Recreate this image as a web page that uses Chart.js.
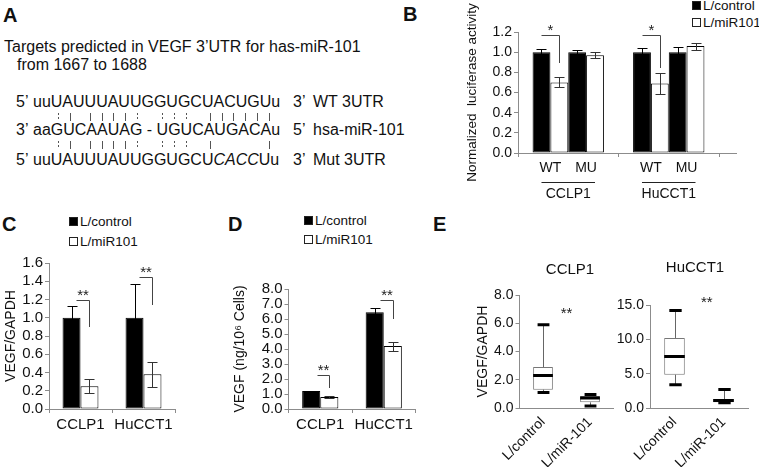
<!DOCTYPE html>
<html>
<head>
<meta charset="utf-8">
<script src="https://cdn.jsdelivr.net/npm/chart.js@4"></script>
<style>
body{margin:0;background:#fff;font-family:"Liberation Sans",Arial,sans-serif;color:#111}
#fig{position:relative;width:759px;height:467px;overflow:hidden;background:#fff}
canvas{position:absolute}
.t{position:absolute;white-space:pre;line-height:1}
.let{font-weight:bold;font-size:20px;line-height:20px}
.seq{font-size:16px;line-height:16px}
.pm{position:absolute;width:1px;height:8px;background:#555}
.pm.dot{background:repeating-linear-gradient(#555 0 2px, transparent 2px 4px)}
.lg{font-size:13.5px;line-height:14px}
.sq{display:inline-block;width:7px;height:7px;border:1px solid #222;margin-right:2px;vertical-align:0px}
.sq.k{background:#000}
</style>
</head>
<body>
<div id="fig">
  <!-- panel A: sequence alignment -->
  <div class="t let" style="left:3px;top:5px">A</div>
  <div class="t seq" style="left:4px;top:39px">Targets predicted in VEGF 3’UTR for has-miR-101</div>
  <div class="t seq" style="left:17px;top:57px">from 1667 to 1688</div>
  <div class="t seq" style="left:16px;top:94px">5’</div>
  <div class="t seq" style="left:33px;top:94px">uuUAUUUAUUGGUGCUACUGUu</div>
  <div class="t seq" style="left:293px;top:94px">3’</div>
  <div class="t seq" style="left:313px;top:94px">WT 3UTR</div>
  <div class="t seq" style="left:16px;top:122px">3’</div>
  <div class="t seq" style="left:33px;top:122px">aaGUCAAUAG - UGUCAUGACAu</div>
  <div class="t seq" style="left:293px;top:122px">5’</div>
  <div class="t seq" style="left:313px;top:122px">hsa-miR-101</div>
  <div class="t seq" style="left:16px;top:152px">5’</div>
  <div class="t seq" style="left:33px;top:152px">uuUAUUUAUUGGUGCU<i>CACC</i>Uu</div>
  <div class="t seq" style="left:293px;top:152px">3’</div>
  <div class="t seq" style="left:313px;top:152px">Mut 3UTR</div>
  <div id="pairs"></div>

  <div class="t let" style="left:403px;top:4px">B</div>
  <div class="t let" style="left:2px;top:214px">C</div>
  <div class="t let" style="left:228px;top:214px">D</div>
  <div class="t let" style="left:433px;top:214px">E</div>

  <div class="t lg" style="left:692px;top:-1px"><span class="sq k"></span>L/control</div>
  <div class="t lg" style="left:692px;top:16px"><span class="sq"></span>L/miR101</div>
  <div class="t lg" style="left:69px;top:215px"><span class="sq k"></span>L/control</div>
  <div class="t lg" style="left:69px;top:235px"><span class="sq"></span>L/miR101</div>
  <div class="t lg" style="left:304px;top:214px"><span class="sq k"></span>L/control</div>
  <div class="t lg" style="left:304px;top:233px"><span class="sq"></span>L/miR101</div>

  <canvas id="chartB" width="290" height="205" style="left:455px;top:0px"></canvas>
  <canvas id="chartC" width="185" height="190" style="left:0px;top:245px"></canvas>
  <canvas id="chartD" width="200" height="190" style="left:225px;top:245px"></canvas>
  <canvas id="chartE1" width="145" height="212" style="left:474px;top:255px"></canvas>
  <canvas id="chartE2" width="145" height="212" style="left:614px;top:255px"></canvas>
</div>
<script>
// ---- data ----
// B: luciferase
const bCells = ['CCLP1', 'HuCCT1'];
const bConstructs = ['WT', 'MU'];
const bCtrlWT = [1.00, 1.00];
const bCtrlWTErr = [0.03, 0.04];
const bMirWT = [0.70, 0.69];
const bMirWTErr = [0.05, 0.10];
const bCtrlMU = [1.00, 1.00];
const bCtrlMUErr = [0.025, 0.05];
const bMirMU = [0.97, 1.06];
const bMirMUErr = [0.03, 0.035];
const bSigTop = [1.17, 1.17];
const bSigDrop = [0.89, 0.84];

// C: VEGF/GAPDH mRNA
const cCells = ['CCLP1', 'HuCCT1'];
const cControl = [1.00, 1.00];
const cControlErr = [0.13, 0.37];
const cMir = [0.25, 0.38];
const cMirErr = [0.075, 0.14];
const cSigTop = [1.19, 1.45];
const cSigDrop = [0.90, 1.14];

// D: secreted VEGF
const dCells = ['CCLP1', 'HuCCT1'];
const dControl = [1.2, 6.45];
const dControlErr = [0.03, 0.27];
const dMir = [0.8, 4.2];
const dMirErr = [0.05, 0.30];
const dSigTop = [2.27, 7.27];
const dSigDrop = [1.4, 6.0];

// E: box plots
const eGroups = ['L/control', 'L/miR-101'];
const e1Min = [1.1, 0.15];
const e1Q1 = [1.3, 0.4];
const e1Median = [2.3, 0.7];
const e1Q3 = [2.9, 0.85];
const e1Max = [5.9, 0.95];
const e2Min = [3.4, 0.75];
const e2Q1 = [4.85, 0.85];
const e2Median = [7.5, 1.1];
const e2Q3 = [10.2, 1.3];
const e2Max = [14.2, 2.7];

// panel A pairing marks (x centres under the sequence letters)
const pairRow1X = [58, 70, 90, 102, 113, 125, 137, 162, 174, 186, 210, 222, 233, 245, 257, 269];
const pairRow1 = [':', '|', '|', '|', '|', '|', ':', ':', ':', ':', '|', '|', '|', '|', '|', '|'];
const pairRow2X = [58, 70, 90, 102, 113, 125, 137, 162, 174, 186, 210, 269];
const pairRow2 = [':', '|', '|', '|', '|', '|', ':', ':', ':', ':', '|', '|'];

const pairs = document.getElementById('pairs');
function addPairs(xs, marks, top) {
    xs.forEach((x, i) => {
        const d = document.createElement('div');
        d.className = marks[i] === ':' ? 'pm dot' : 'pm';
        d.style.left = x + 'px';
        d.style.top = top + 'px';
        pairs.appendChild(d);
    });
}
addPairs(pairRow1X, pairRow1, 113);
addPairs(pairRow2X, pairRow2, 141);

// ---- charts ----
Chart.defaults.font.family = '"Liberation Sans", Arial, sans-serif';
Chart.defaults.color = '#111';
Chart.defaults.animation = false;
const AXIS = '#8c8c8c';

function yAxis(max, step, width, title, titlePad, tickSize, titleSize) {
    return {
        min: 0, max: max,
        border: {color: AXIS},
        grid: {drawOnChartArea: false, drawTicks: true, tickLength: 4, color: AXIS},
        ticks: {stepSize: step, padding: 2, autoSkip: false, font: {size: tickSize}, color: '#111', callback: v => v.toFixed(1)},
        title: {display: !!title, text: title, font: {size: titleSize || 14}, color: '#111', padding: {top: titlePad, bottom: 0}},
        afterFit(s) { s.width = width; }
    };
}
function xAxis(height, showLabels, showGrid, size) {
    return {
        border: {color: AXIS},
        grid: {display: showGrid, drawOnChartArea: false, drawTicks: true, tickLength: 4, color: AXIS},
        ticks: {display: showLabels, padding: 3, font: {size: size || 14}, color: '#111', maxRotation: 0, autoSkip: false},
        afterFit(s) { s.height = height; }
    };
}

const deco = {
    id: 'deco',
    afterDatasetsDraw(chart, args, o) {
        const ctx = chart.ctx;
        const ys = chart.scales.y, xs = chart.scales.x;
        const area = chart.chartArea;
        ctx.save();
        ctx.lineWidth = 1;
        // error bars
        (o.errors || []).forEach((errs, di) => {
            const meta = chart.getDatasetMeta(di);
            meta.data.forEach((bar, i) => {
                const v = chart.data.datasets[di].data[i];
                const x = Math.round(bar.x) + 0.5;
                const t = Math.round(ys.getPixelForValue(v + errs[i])) + 0.5;
                const b = Math.round(ys.getPixelForValue(v - errs[i])) + 0.5;
                ctx.strokeStyle = di % 2 === 0 ? '#000' : '#333';
                ctx.beginPath();
                ctx.moveTo(x, t); ctx.lineTo(x, b);
                ctx.moveTo(x - 5, t); ctx.lineTo(x + 5, t);
                ctx.moveTo(x - 5, b); ctx.lineTo(x + 5, b);
                ctx.stroke();
            });
        });
        // significance brackets
        if (o.sig) {
            const s = o.sig;
            const ma = chart.getDatasetMeta(s.from), mb = chart.getDatasetMeta(s.to);
            s.top.forEach((tv, i) => {
                const a = ma.data[i], b = mb.data[i];
                const x1 = Math.round(a.x + s.shift * a.width) + 0.5;
                const x2 = Math.round(b.x) + 0.5;
                const yt = Math.round(ys.getPixelForValue(tv)) + 0.5;
                const yd = Math.round(ys.getPixelForValue(s.drop[i]));
                ctx.strokeStyle = '#444';
                ctx.beginPath();
                ctx.moveTo(x1, yt); ctx.lineTo(x2, yt); ctx.lineTo(x2, yd);
                ctx.stroke();
                ctx.fillStyle = '#222';
                ctx.font = '15px "Liberation Sans", Arial, sans-serif';
                ctx.textAlign = 'center';
                ctx.textBaseline = 'middle';
                ctx.fillText(s.label, (x1 + x2) / 2, yt - 5);
            });
        }
        // sub labels (WT / MU) with underline and cell line name
        if (o.groups) {
            const g = o.groups;
            ctx.font = '14px "Liberation Sans", Arial, sans-serif';
            ctx.fillStyle = '#111';
            ctx.textAlign = 'center';
            ctx.textBaseline = 'middle';
            const m = [0, 1, 2, 3].map(k => chart.getDatasetMeta(k).data);
            g.names.forEach((name, i) => {
                ctx.fillText(g.subs[0], (m[0][i].x + m[1][i].x) / 2, area.bottom + 15);
                ctx.fillText(g.subs[1], (m[2][i].x + m[3][i].x) / 2, area.bottom + 15);
                ctx.strokeStyle = '#222';
                ctx.beginPath();
                ctx.moveTo(m[0][i].x, area.bottom + 29.5);
                ctx.lineTo(m[3][i].x, area.bottom + 29.5);
                ctx.stroke();
                ctx.fillText(name, (m[0][i].x + m[3][i].x) / 2, area.bottom + 41);
            });
        }
        // axis line extension
        if (o.extend) {
            ctx.strokeStyle = AXIS;
            ctx.beginPath();
            ctx.moveTo(area.right, area.bottom + 0.5);
            ctx.lineTo(area.right + o.extend, area.bottom + 0.5);
            ctx.stroke();
        }
        // box plot whiskers, caps and medians
        if (o.box) {
            const bx = o.box;
            chart.getDatasetMeta(0).data.forEach((bar, i) => {
                const x = Math.round(bar.x) + 0.5;
                const cw = bar.width * 0.3;
                const pMin = ys.getPixelForValue(bx.min[i]);
                const pMax = ys.getPixelForValue(bx.max[i]);
                const pQ1 = ys.getPixelForValue(bx.q1[i]);
                const pQ3 = ys.getPixelForValue(bx.q3[i]);
                const pMed = ys.getPixelForValue(bx.median[i]);
                ctx.strokeStyle = '#666';
                ctx.lineWidth = 1;
                ctx.beginPath();
                ctx.moveTo(x, pQ3); ctx.lineTo(x, pMax);
                ctx.moveTo(x, pQ1); ctx.lineTo(x, pMin);
                ctx.stroke();
                ctx.strokeStyle = '#000';
                ctx.lineWidth = 3;
                ctx.beginPath();
                ctx.moveTo(x - cw, pMax); ctx.lineTo(x + cw, pMax);
                ctx.moveTo(x - cw, pMin); ctx.lineTo(x + cw, pMin);
                ctx.moveTo(bar.x - bar.width / 2, pMed); ctx.lineTo(bar.x + bar.width / 2, pMed);
                ctx.stroke();
            });
        }
        if (o.stars) {
            ctx.fillStyle = '#222';
            ctx.font = '15px "Liberation Sans", Arial, sans-serif';
            ctx.textAlign = 'center';
            ctx.textBaseline = 'middle';
            ctx.fillText('**', xs.getPixelForValue(o.stars[0]), ys.getPixelForValue(o.stars[1]));
        }
        if (o.heading) {
            ctx.fillStyle = '#111';
            ctx.font = '15px "Liberation Sans", Arial, sans-serif';
            ctx.textAlign = 'center';
            ctx.textBaseline = 'middle';
            ctx.fillText(o.heading.text, (area.left + area.right) / 2 + o.heading.dx, area.top - o.heading.dy);
        }
        ctx.restore();
    }
};

function barSet(data, dark) {
    return {
        data: data,
        backgroundColor: dark ? '#000' : '#fff',
        borderColor: '#000',
        borderWidth: 1,
        borderSkipped: false,
        categoryPercentage: 0.57,
        barPercentage: 1.0
    };
}

// B
const bSets = [barSet(bCtrlWT, true), barSet(bMirWT, false), barSet(bCtrlMU, true), barSet(bMirMU, false)];
bSets.forEach(s => { s.categoryPercentage = 0.71; });
new Chart(document.getElementById('chartB'), {
    type: 'bar',
    data: {labels: bCells, datasets: bSets},
    options: {
        responsive: false, devicePixelRatio: 1,
        layout: {padding: {top: 32, right: 26, left: 0, bottom: 0}},
        plugins: {
            legend: {display: false}, tooltip: {enabled: false},
            deco: {
                errors: [bCtrlWTErr, bMirWTErr, bCtrlMUErr, bMirMUErr],
                sig: {from: 0, to: 1, shift: 0, top: bSigTop, drop: bSigDrop, label: '*'},
                groups: {names: bCells, subs: bConstructs},
                extend: 18
            }
        },
        scales: {
            x: xAxis(52, false, true),
            y: yAxis(1.2, 0.2, 63, 'Normalized  luciferase activity', 9, 14, 13.5)
        }
    },
    plugins: [deco]
});

// C
new Chart(document.getElementById('chartC'), {
    type: 'bar',
    data: {labels: cCells, datasets: [barSet(cControl, true), barSet(cMir, false)]},
    options: {
        responsive: false, devicePixelRatio: 1,
        layout: {padding: {top: 18, right: 10, left: 0, bottom: 0}},
        plugins: {
            legend: {display: false}, tooltip: {enabled: false},
            deco: {
                errors: [cControlErr, cMirErr],
                sig: {from: 0, to: 1, shift: 0.25, top: cSigTop, drop: cSigDrop, label: '**'}
            }
        },
        scales: {
            x: xAxis(26, true, true, 15),
            y: yAxis(1.6, 0.2, 49, 'VEGF/GAPDH', 3, 15)
        }
    },
    plugins: [deco]
});

// D
new Chart(document.getElementById('chartD'), {
    type: 'bar',
    data: {labels: dCells, datasets: [barSet(dControl, true), barSet(dMir, false)]},
    options: {
        responsive: false, devicePixelRatio: 1,
        layout: {padding: {top: 44, right: 9.5, left: 0, bottom: 0}},
        plugins: {
            legend: {display: false}, tooltip: {enabled: false},
            deco: {
                errors: [dControlErr, dMirErr],
                sig: {from: 0, to: 1, shift: 0.3, top: dSigTop, drop: dSigDrop, label: '**'}
            }
        },
        scales: {
            x: xAxis(26, true, true, 15),
            y: yAxis(8, 1, 63.5, 'VEGF (ng/10⁶ Cells)', 6.5, 15)
        }
    },
    plugins: [deco]
});

// E
function boxChart(id, heading, max, step, yWidth, pad, q1, q3, mn, med, mx, stars, title, titlePad) {
    const x = xAxis(59, true, false, 14);
    x.ticks.maxRotation = 45;
    x.ticks.minRotation = 45;
    x.ticks.padding = 2;
    new Chart(document.getElementById(id), {
        type: 'bar',
        data: {
            labels: eGroups,
            datasets: [{
                data: q1.map((v, i) => [v, q3[i]]),
                backgroundColor: '#fff',
                borderColor: '#777',
                borderWidth: 1,
                borderSkipped: false,
                categoryPercentage: 0.42,
                barPercentage: 1.0
            }]
        },
        options: {
            responsive: false, devicePixelRatio: 1,
            layout: {padding: pad},
            plugins: {
                legend: {display: false}, tooltip: {enabled: false},
                deco: {box: {min: mn, q1: q1, median: med, q3: q3, max: mx}, stars: stars, heading: heading}
            },
            scales: {
                x: x,
                y: yAxis(max, step, yWidth, title, titlePad, 14)
            }
        },
        plugins: [deco]
    });
}
boxChart('chartE1', {text: 'CCLP1', dx: 3.5, dy: 25}, 8, 2, 45.5, {top: 40, right: 5.5, left: 0, bottom: 0},
    e1Q1, e1Q3, e1Min, e1Median, e1Max, [0.5, 6.7], 'VEGF/GAPDH', 1);
boxChart('chartE2', {text: 'HuCCT1', dx: -4, dy: 37}, 15, 5, 36, {top: 50, right: 11, left: 0, bottom: 0},
    e2Q1, e2Q3, e2Min, e2Median, e2Max, [0.66, 15.3], '', 0);
</script>
</body>
</html>
